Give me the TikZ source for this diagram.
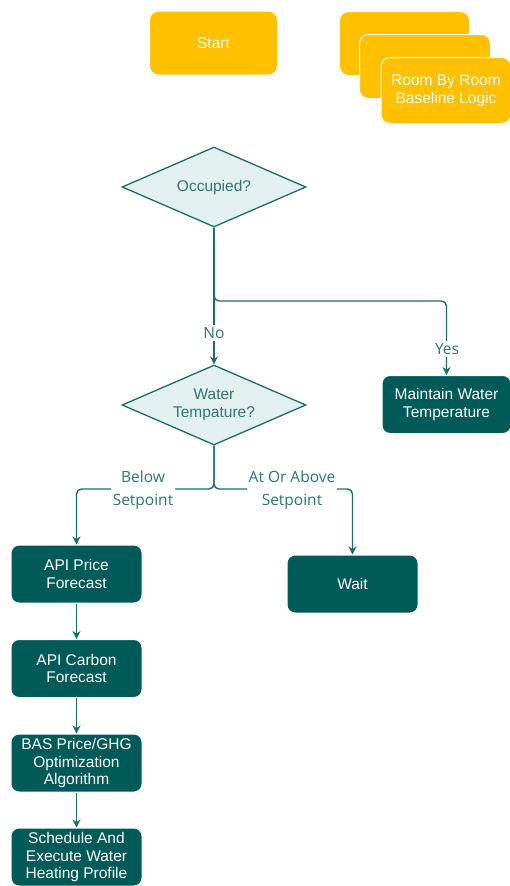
\documentclass[tikz,border=0pt]{standalone}
\usepackage{fontspec}
\setmainfont{Liberation Sans}
\newfontfamily\lblfont{Open Sans}
\usetikzlibrary{shapes.geometric,arrows.meta}

\definecolor{sun}{HTML}{FFC000}
\definecolor{pine}{HTML}{005A57}
\definecolor{mint}{HTML}{E2F1F0}
\definecolor{wire}{HTML}{1E6B67}
\definecolor{ink}{HTML}{2F7673}

\tikzset{
  sunbox/.style={draw=white, line width=1pt, fill=sun, rounded corners=9pt,
    minimum width=128pt, minimum height=64pt, text=white, align=center,
    font=\fontsize{15.5}{17.7}\selectfont},
  pinebox/.style={draw=white, line width=1pt, fill=pine, rounded corners=8pt,
    minimum width=131pt, minimum height=58pt, text=white, align=center,
    font=\fontsize{15.5}{17.7}\selectfont},
  choice/.style={diamond, draw=wire, line width=1.3pt, fill=mint, inner sep=0pt,
    minimum width=184pt, minimum height=80pt},
  choicetext/.style={text=ink, align=center, inner sep=0pt,
    font=\fontsize{15.5}{17.7}\selectfont},
  wirepath/.style={draw=wire, line width=1.4pt, rounded corners=5pt},
  arr/.style={wirepath, -{Stealth[length=8pt,width=8pt,inset=2.5pt]}},
  lbl/.style={fill=white, text=ink, inner sep=2pt, align=center,
    font=\lblfont\fontsize{15.5}{23}\selectfont},
}

\begin{document}
\begin{tikzpicture}[x=1pt,y=-1pt]
  \useasboundingbox (0,0) rectangle (510,886);
  \clip (0,0) rectangle (510,886);

  % top row
  \node[sunbox] (start) at (213.5,43) {Start};
  \node[sunbox, minimum width=130pt] (stackA) at (404.5,43.5) {};
  \node[sunbox, minimum width=131pt] (stackB) at (425,66.5) {};
  \node[sunbox, minimum width=130pt, minimum height=66pt] (rooms) at (446,90.5) {Room By Room\\Baseline Logic};

  % decisions
  \node[choice] (occ) at (214,187) {};
  \node[choicetext] (occtext) at (occ.center) {Occupied?};
  \node[choice] (wtemp) at (214,405) {};
  \node[choicetext] (wtemptext) at (wtemp.center) {Water\\Tempature?};

  % process boxes
  \node[pinebox, minimum width=129pt] (maint) at (446.5,404.5) {Maintain Water\\Temperature};
  \node[pinebox] (wait) at (352.5,584) {Wait};
  \node[pinebox] (price) at (76.5,574) {API Price\\Forecast};
  \node[pinebox] (carbon) at (76.5,668.5) {API Carbon\\Forecast};
  \node[pinebox] (bas) at (76.5,763) {BAS Price/GHG\\Optimization\\Algorithm};
  \node[pinebox] (sched) at (76.5,857) {Schedule And\\Execute Water\\Heating Profile};

  % occupied? branches
  \coordinate (split1) at (214,301);
  \draw[arr] (occ.south) -- (split1) -- (split1 -| maint.north) -- (maint.north);
  \draw[arr] (occ.south) -- (wtemp.north);
  \node[lbl] (no) at (214,333) {No};
  \node[lbl] (yes) at (447,349) {Yes};

  % water temperature branches
  \coordinate (split2) at (214,489);
  \draw[arr] (wtemp.south) -- (split2) -- (split2 -| price.north) -- (price.north);
  \draw[arr] (wtemp.south) -- (split2) -- (split2 -| wait.north) -- (wait.north);
  \node[lbl] (below) at (143,489.5) {Below\\Setpoint};
  \node[lbl] (above) at (292,489.5) {At Or Above\\Setpoint};

  % forecast chain
  \draw[arr] (price.south) -- (carbon.north);
  \draw[arr] (carbon.south) -- (bas.north);
  \draw[arr] (bas.south) -- (sched.north);
\end{tikzpicture}
\end{document}
